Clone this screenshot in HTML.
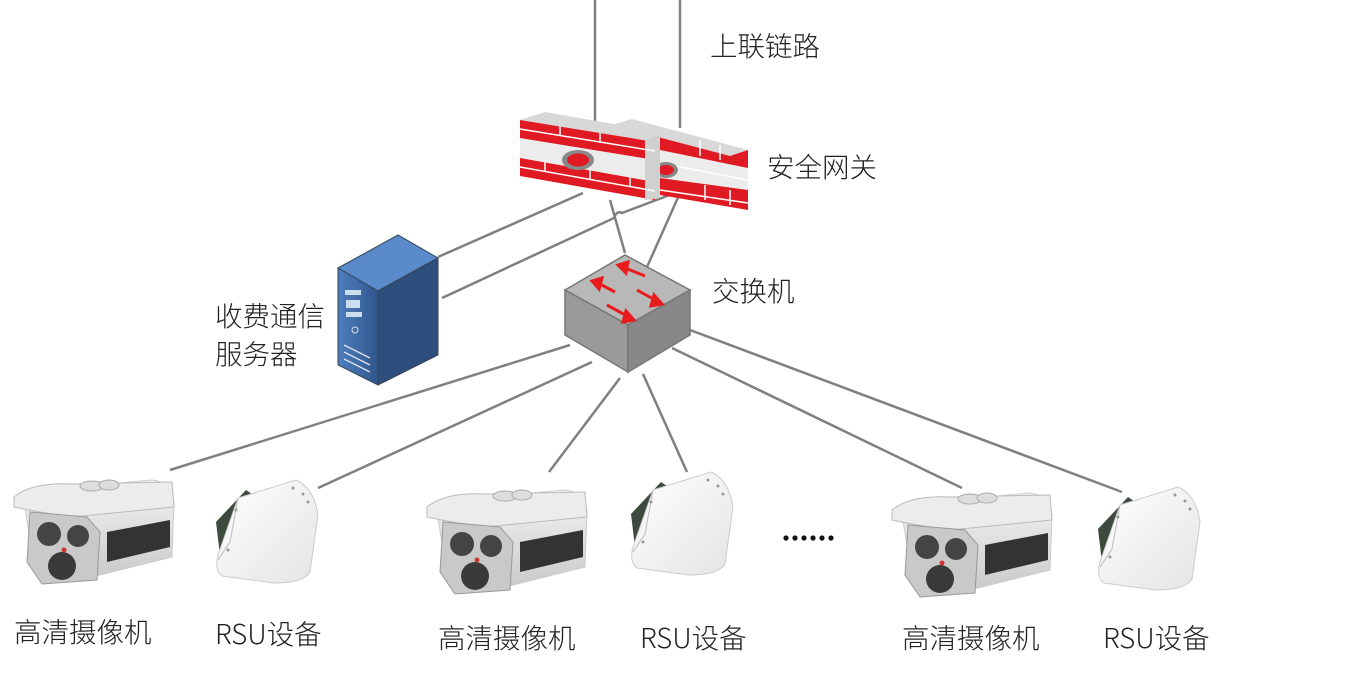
<!DOCTYPE html>
<html><head><meta charset="utf-8"><style>
html,body{margin:0;padding:0;background:#fff;}
svg{display:block}
text{font-family:"Noto Sans CJK SC","Liberation Sans",sans-serif;font-weight:300;font-size:27.5px;fill:#222}
</style></head><body>
<svg width="1345" height="684" viewBox="0 0 1345 684" xmlns="http://www.w3.org/2000/svg">
<defs>
<linearGradient id="body" x1="0" y1="0" x2="0" y2="1"><stop offset="0" stop-color="#f4f4f4"/><stop offset="1" stop-color="#c8c8c8"/></linearGradient>
<linearGradient id="srv" x1="0" y1="0" x2="1" y2="0"><stop offset="0" stop-color="#4f7fbf"/><stop offset="1" stop-color="#2f568c"/></linearGradient>
<linearGradient id="rsug" x1="0" y1="0" x2="1" y2="1"><stop offset="0" stop-color="#ffffff"/><stop offset="1" stop-color="#e4e4e4"/></linearGradient>
<g id="cam">
  <path d="M10 30 L140 18 Q160 20 162 40 L160 95 L60 120 L25 115 Z" fill="url(#body)" stroke="#ccc"/>
  <path d="M2 35 Q20 20 60 22 L160 20 L162 45 L60 55 Q25 50 2 45 Z" fill="#ececec" stroke="#bbb"/>
  <ellipse cx="80" cy="24" rx="12" ry="5" fill="#ddd" stroke="#aaa"/>
  <ellipse cx="97" cy="23" rx="10" ry="5" fill="#ddd" stroke="#aaa"/>
  <path d="M95 70 L158 58 L158 85 L95 100 Z" fill="#333"/>
  <path d="M18 50 L75 55 L88 70 L85 118 L30 122 L15 100 Z" fill="#c9c9c9" stroke="#999"/>
  <circle cx="37" cy="72" r="12" fill="#444"/>
  <circle cx="66" cy="74" r="11" fill="#444"/>
  <circle cx="50" cy="104" r="14" fill="#3a3a3a"/>
  <circle cx="52" cy="88" r="2.5" fill="#c33"/>
</g>
<g id="rsu">
  <path d="M8 42 L38 10 L50 18 L48 60 L14 92 Z" fill="#3d4a3d"/>
  <path d="M30 18 L88 0 Q106 8 110 35 L102 92 Q96 103 66 103 L14 96 Q6 90 10 75 Z" fill="url(#rsug)" stroke="#ccc"/>
  <path d="M30 18 L22 62 L10 80" stroke="#bbb" fill="none"/>
  <g fill="#999"><circle cx="85" cy="8" r="1.5"/><circle cx="95" cy="14" r="1.5"/><circle cx="100" cy="22" r="1.5"/><circle cx="28" cy="30" r="1.5"/><circle cx="20" cy="70" r="1.5"/></g>
</g>
</defs>

<g stroke="#808080" stroke-width="2.5" fill="none">
  <line x1="595" y1="0" x2="595" y2="125"/>
  <line x1="680" y1="0" x2="680" y2="128"/>
  <line x1="583" y1="193" x2="438" y2="257"/>
  <path d="M675 193 L622 213 Q617 210 614 218 L442 298"/>
  <line x1="610" y1="200" x2="625" y2="253"/>
  <line x1="680" y1="193" x2="647" y2="267"/>
  <line x1="570" y1="345" x2="170" y2="470"/>
  <line x1="592" y1="362" x2="318" y2="488"/>
  <line x1="620" y1="378" x2="549" y2="472"/>
  <line x1="643" y1="374" x2="687" y2="472"/>
  <line x1="672" y1="348" x2="962" y2="488"/>
  <line x1="690" y1="330" x2="1122" y2="492"/>
</g>

<!-- firewall 2 (back) -->
<g>
  <path d="M612 125 L632 119 L748 150 L730 156 Z" fill="#d8d8d8"/>
  <path d="M612 125 L730 156 L748 150 L748 210 L660 195 L660 140 L612 132 Z" fill="#e01a22"/>
  <path d="M660 150 L748 168 L748 190 L660 178 Z" fill="#ececec"/>
  <g stroke="#fff" stroke-width="1.5"><line x1="660" y1="163" x2="748" y2="180"/><line x1="660" y1="190" x2="748" y2="203"/><line x1="700" y1="140" x2="700" y2="156"/><line x1="720" y1="145" x2="720" y2="160"/><line x1="705" y1="185" x2="705" y2="200"/><line x1="730" y1="190" x2="730" y2="205"/></g>
  <ellipse cx="666" cy="170" rx="12" ry="8" fill="#888"/><ellipse cx="666" cy="170" rx="8" ry="5" fill="#e01a22"/>
</g>
<!-- firewall 1 (front) -->
<g>
  <path d="M520 120 L545 112 L665 133 L655 142 Z" fill="#d8d8d8"/>
  <path d="M520 120 L655 142 L655 200 L520 176 Z" fill="#e01a22"/>
  <path d="M520 138 L655 160 L655 182 L520 158 Z" fill="#ececec"/>
  <path d="M645 140 L660 135 L660 198 L645 200 Z" fill="#d0d0d0"/>
  <g stroke="#fff" stroke-width="1.5"><line x1="520" y1="129" x2="655" y2="151"/><line x1="520" y1="167" x2="655" y2="191"/><line x1="560" y1="126" x2="560" y2="136"/><line x1="600" y1="133" x2="600" y2="143"/><line x1="545" y1="162" x2="545" y2="172"/><line x1="590" y1="170" x2="590" y2="180"/><line x1="630" y1="177" x2="630" y2="187"/></g>
  <ellipse cx="578" cy="160" rx="16" ry="10" fill="#888"/><ellipse cx="578" cy="160" rx="11" ry="6.5" fill="#e01a22"/>
</g>

<!-- server -->
<g>
  <path d="M338 268 L398 235 L438 258 L378 291 Z" fill="#5b8acb" stroke="#345"/>
  <path d="M378 291 L438 258 L438 355 L378 385 Z" fill="#2e4f7e" stroke="#345"/>
  <path d="M338 268 L378 291 L378 385 L338 365 Z" fill="url(#srv)" stroke="#345"/>
  <rect x="345" y="290" width="16" height="5" fill="#cde"/>
  <rect x="346" y="300" width="14" height="8" fill="#cde"/>
  <rect x="346" y="312" width="16" height="5" fill="#cde"/>
  <circle cx="355" cy="330" r="3" fill="none" stroke="#dde"/>
  <path d="M344 345 L370 358 M344 352 L370 365 M344 359 L370 372" stroke="#dde" stroke-width="1.5"/>
</g>

<!-- switch -->
<g>
  <path d="M565 290 L625 255 L690 290 L628 325 Z" fill="#b8b8b8" stroke="#777" stroke-width="1.5"/>
  <path d="M565 290 L628 325 L628 372 L565 335 Z" fill="#9a9a9a" stroke="#777" stroke-width="1.5"/>
  <path d="M628 325 L690 290 L690 335 L628 372 Z" fill="#888" stroke="#777" stroke-width="1.5"/>
  <g stroke="#e81c1c" stroke-width="3" fill="#e81c1c">
    <line x1="645" y1="276" x2="625" y2="268"/><path d="M618 265 L628 262 L626 273 Z"/>
    <line x1="615" y1="292" x2="598" y2="283"/><path d="M592 281 L602 278 L599 289 Z"/>
    <line x1="637" y1="290" x2="655" y2="300"/><path d="M662 304 L651 306 L654 295 Z"/>
    <line x1="607" y1="305" x2="627" y2="316"/><path d="M634 320 L623 322 L626 311 Z"/>
  </g>
</g>

<!-- devices -->
<use href="#cam" x="12" y="462"/>
<use href="#cam" x="425" y="472"/>
<use href="#cam" x="890" y="475"/>
<use href="#rsu" x="208" y="480"/>
<use href="#rsu" x="623" y="472"/>
<use href="#rsu" x="1090" y="487"/>

<g fill="#111"><circle cx="786" cy="538" r="2.6"/><circle cx="795" cy="538" r="2.6"/><circle cx="804" cy="538" r="2.6"/><circle cx="813" cy="538" r="2.6"/><circle cx="822" cy="538" r="2.6"/><circle cx="831" cy="538" r="2.6"/></g>

<text x="710" y="56">上联链路</text>
<text x="767" y="177">安全网关</text>
<text x="712" y="301">交换机</text>
<text x="215" y="326">收费通信</text>
<text x="215" y="364">服务器</text>
<text x="14" y="642">高清摄像机</text>
<text x="215" y="644">RSU设备</text>
<text x="438" y="648">高清摄像机</text>
<text x="640" y="648">RSU设备</text>
<text x="902" y="648">高清摄像机</text>
<text x="1103" y="648">RSU设备</text>
</svg>
</body></html>
